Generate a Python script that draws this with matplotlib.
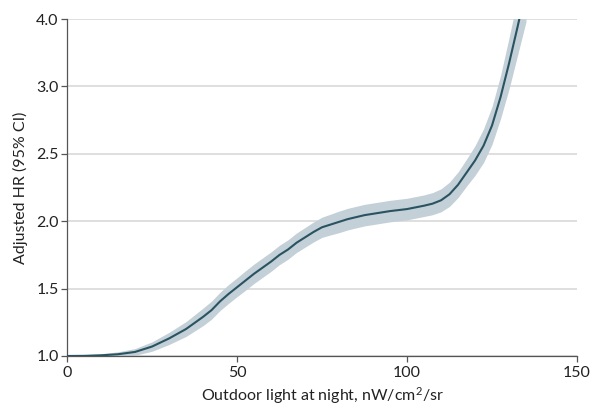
import numpy as np
import matplotlib
matplotlib.use('Agg')
import matplotlib.pyplot as plt
import matplotlib as mpl

mpl.rcParams['font.family'] = ['Lato', 'DejaVu Sans']
mpl.rcParams['mathtext.default'] = 'regular'
mpl.rcParams['font.size'] = 11.5

# data
light = [0, 5, 10, 15, 20, 25, 27.5, 30, 32.5, 35, 37.5, 40, 42.5, 45, 47.5,
         50, 52.5, 55, 57.5, 60, 62.5, 65, 67.5, 70, 72.5, 75, 77.5, 80,
         82.5, 85, 87.5, 90, 95, 100, 105, 107.5, 110, 112.5, 115, 117.5,
         120, 122.5, 125, 127.5, 130, 132.5, 135]
hr = [1.000, 1.001, 1.005, 1.013, 1.03, 1.07, 1.10, 1.13, 1.165, 1.20,
      1.245, 1.29, 1.34, 1.405, 1.46, 1.51, 1.56, 1.61, 1.655, 1.70, 1.75,
      1.79, 1.84, 1.88, 1.92, 1.955, 1.975, 1.995, 2.015, 2.03, 2.045,
      2.055, 2.075, 2.09, 2.115, 2.13, 2.155, 2.20, 2.27, 2.36, 2.45, 2.56,
      2.71, 2.92, 3.34, 3.88, 4.44]
hr_lo = [0.996, 0.993, 0.993, 0.995, 1.005, 1.035, 1.06, 1.085, 1.115,
         1.145, 1.185, 1.225, 1.273, 1.337, 1.39, 1.44, 1.488, 1.538, 1.583,
         1.628, 1.678, 1.718, 1.768, 1.807, 1.846, 1.88, 1.898, 1.915, 1.935,
         1.95, 1.965, 1.975, 1.995, 2.01, 2.035, 2.048, 2.07, 2.11, 2.175,
         2.26, 2.34, 2.435, 2.57, 2.76, 2.98, 3.46, 3.96]
hr_hi = [1.004, 1.009, 1.017, 1.031, 1.055, 1.105, 1.14, 1.175, 1.215,
         1.255, 1.305, 1.355, 1.407, 1.473, 1.53, 1.58, 1.632, 1.682, 1.727,
         1.772, 1.822, 1.862, 1.912, 1.953, 1.994, 2.03, 2.052, 2.075, 2.095,
         2.11, 2.125, 2.135, 2.155, 2.17, 2.195, 2.212, 2.24, 2.29, 2.365,
         2.46, 2.56, 2.685, 2.85, 3.16, 3.72, 4.30, 4.92]

yticks = [1.0, 1.5, 2.0, 2.5, 3.0, 4.0]
xticks = [0, 50, 100, 150]


# axis is squeezed above 3.0 (3 -> 4 takes the room of half a unit)
def fwd(y):
    y = np.asarray(y, dtype=float)
    return np.where(y <= 3, y, 3 + (y - 3) * 0.5)


def inv(d):
    d = np.asarray(d, dtype=float)
    return np.where(d <= 3, d, 3 + (d - 3) * 2.0)


fig = plt.figure(figsize=(5.94, 4.09), dpi=100)
ax = fig.add_axes([0.1128, 0.1296, 0.8586, 0.8239])
ax.set_yscale('function', functions=(fwd, inv))

ax.fill_between(light, hr_lo, hr_hi, color='#c4d0d7', lw=0, zorder=2)
ax.plot(light, hr, color='#2a5361', lw=1.5, zorder=3)

ax.set_xlim(0, 150)
ax.set_ylim(1.0, 4.0)
ax.set_xticks(xticks)
ax.set_yticks(yticks)
ax.set_yticklabels(['%.1f' % v for v in yticks])
ax.yaxis.set_minor_locator(mpl.ticker.NullLocator())
ax.grid(True, axis='y', color='#d9d9d9', lw=1.2, zorder=0)

for s in ['top', 'right']:
    ax.spines[s].set_visible(False)
for s in ['left', 'bottom']:
    ax.spines[s].set_color('#555555')
    ax.spines[s].set_linewidth(0.9)
ax.tick_params(direction='out', length=4, width=0.9, color='#555555',
               labelcolor='#222222', pad=2)
ax.tick_params(axis='x', pad=3)

ax.set_xlabel('Outdoor light at night, nW/cm$^2$/sr', color='#222222', labelpad=4)
ax.set_ylabel('Adjusted HR (95% CI)', color='#222222', labelpad=6)

plt.savefig('out.png', dpi=100)
